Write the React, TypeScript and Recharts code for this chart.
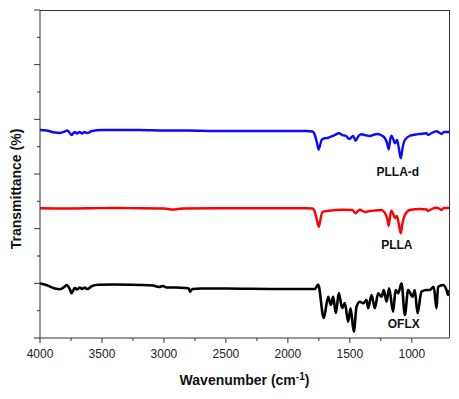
import React from 'react';
import { LineChart, Line, XAxis, YAxis, ReferenceDot } from 'recharts';

// wavenumber (cm-1) / transmittance (offset, arbitrary units)
const PLLA_D_WN = [4000, 3950, 3880, 3840, 3800, 3780, 3760, 3745, 3720, 3700, 3680, 3660, 3640, 3620, 3580, 3500, 3400, 3200, 3000, 2800, 2600, 2400, 2200, 2000, 1850, 1800, 1780, 1765, 1752, 1740, 1728, 1704, 1680, 1661, 1630, 1586, 1560, 1530, 1505, 1485, 1473, 1454, 1430, 1406, 1380, 1339, 1300, 1280, 1250, 1218, 1200, 1186, 1175, 1165, 1150, 1137, 1119, 1105, 1089, 1075, 1056, 1016, 970, 935, 881, 868, 840, 801, 780, 761, 740, 700];
const PLLA_D_T = [38.05, 37.96, 37.59, 37.5, 37.77, 37.96, 37.5, 37.13, 37.68, 37.41, 37.68, 37.41, 37.68, 37.5, 37.87, 38.05, 38.05, 38.05, 37.96, 37.96, 37.87, 37.87, 37.87, 37.87, 37.87, 37.77, 36.95, 35.67, 34.48, 35.3, 36.22, 36.53, 36.58, 36.77, 37.04, 37.45, 37.13, 36.95, 36.4, 36.77, 36.95, 36.09, 36.95, 37.26, 37.13, 36.95, 37.22, 37.32, 37.13, 36.58, 35.67, 34.52, 36.22, 37.0, 36.4, 35.62, 36.22, 34.75, 32.87, 34.75, 36.22, 37.0, 37.22, 37.32, 37.45, 37.13, 37.5, 37.81, 37.59, 37.32, 37.68, 37.68];

const PLLA_WN = [4000, 3800, 3600, 3400, 3200, 3000, 2930, 2850, 2600, 2400, 2200, 2000, 1850, 1800, 1785, 1770, 1750, 1738, 1725, 1715, 1650, 1621, 1560, 1480, 1454, 1435, 1419, 1395, 1371, 1339, 1290, 1244, 1218, 1200, 1186, 1175, 1165, 1150, 1137, 1121, 1105, 1089, 1075, 1056, 1016, 935, 880, 868, 840, 801, 780, 761, 740, 700];
const PLLA_T = [23.73, 23.69, 23.73, 23.78, 23.73, 23.69, 23.5, 23.69, 23.73, 23.73, 23.73, 23.73, 23.73, 23.69, 23.23, 21.95, 20.36, 21.59, 22.87, 23.11, 23.33, 23.41, 23.45, 23.41, 22.81, 23.23, 23.47, 23.23, 23.05, 23.23, 23.33, 23.41, 22.87, 21.95, 20.54, 22.32, 23.29, 22.69, 21.95, 22.32, 20.85, 19.15, 21.04, 22.5, 23.41, 23.6, 23.5, 23.23, 23.6, 23.84, 23.69, 23.41, 23.78, 23.78];

const OFLX_WN = [4000, 3950, 3880, 3839, 3800, 3785, 3760, 3745, 3720, 3700, 3680, 3660, 3640, 3620, 3580, 3532, 3400, 3200, 3089, 3040, 3008, 2980, 2900, 2830, 2800, 2790, 2770, 2700, 2500, 2300, 2100, 1900, 1782, 1756, 1710, 1675, 1653, 1635, 1613, 1589, 1562, 1540, 1514, 1494, 1468, 1446, 1419, 1393, 1365, 1352, 1325, 1298, 1272, 1244, 1226, 1204, 1183, 1151, 1131, 1110, 1083, 1056, 1030, 994, 976, 954, 922, 881, 855, 823, 801, 788, 748, 720, 707, 700];
const OFLX_T = [9.97, 9.7, 9.05, 8.91, 9.42, 9.7, 8.96, 8.18, 9.15, 8.87, 9.24, 8.96, 9.24, 8.96, 9.51, 9.75, 9.79, 9.7, 9.6, 9.33, 9.51, 9.24, 9.24, 9.15, 9.05, 8.47, 8.96, 9.05, 9.05, 9.0, 8.96, 8.96, 8.96, 9.79, 3.66, 7.55, 6.04, 7.55, 4.57, 8.23, 5.49, 6.4, 2.98, 5.43, 1.15, 5.73, 6.64, 6.35, 6.95, 5.43, 7.87, 5.43, 8.18, 7.55, 8.78, 6.64, 9.09, 4.81, 8.78, 8.18, 10.01, 4.21, 8.78, 7.55, 8.78, 4.52, 8.47, 8.78, 8.78, 9.38, 5.43, 9.38, 9.7, 8.78, 7.87, 8.78];

const X_TICKS = [1000, 1250, 1500, 1750, 2000, 2250, 2500, 2750, 3000, 3250, 3500, 3750, 4000];
const Y_TICKS = [0, 5, 10, 15, 20, 25, 30, 35, 40, 45, 50, 55, 60];

const toRows = (wn: number[], t: number[]) => wn.map((w, i) => ({ wn: w, t: t[i] }));
const pllaD = toRows(PLLA_D_WN, PLLA_D_T);
const plla = toRows(PLLA_WN, PLLA_T);
const oflx = toRows(OFLX_WN, OFLX_T);

const FONT = '"Liberation Sans", Arial, sans-serif';
const AXIS = '#333';
const W = 459;
const H = 399;
const MARGIN = { top: 10, right: 10, bottom: 0, left: 0 };
const Y_AXIS_W = 40;
const X_AXIS_H = 61;

const XTick = (props: any) => {
  const { x, y, payload } = props;
  const major = payload.value % 500 === 0;
  return (
    <g>
      <line x1={x} x2={x} y1={y} y2={y + (major ? 5 : 3)} stroke={AXIS} />
      {major && (
        <text x={x} y={y + 20} textAnchor="middle" fontSize={12} fontFamily={FONT} fill="#222">
          {payload.value}
        </text>
      )}
    </g>
  );
};

const YTick = (props: any) => {
  const { x, y, payload } = props;
  const major = payload.value % 10 === 0;
  return <line x1={x - (major ? 6 : 3)} x2={x} y1={y} y2={y} stroke={AXIS} />;
};

const XLabel = (props: any) => {
  const { viewBox } = props;
  return (
    <text x={viewBox.x + viewBox.width / 2} y={viewBox.y + 47} textAnchor="middle" fontSize={14} fontWeight="bold" fontFamily={FONT} fill="#111">
      Wavenumber (cm<tspan dy={-5} fontSize={10}>-1</tspan><tspan dy={5}>)</tspan>
    </text>
  );
};

const YLabel = () => (
  <text x={16} y={189} transform="rotate(-90 16 189)" textAnchor="middle" dominantBaseline="central"
    fontSize={14} fontWeight="bold" fontFamily={FONT} fill="#111">
    Transmittance (%)
  </text>
);

const tag = (text: string) => ({ value: text, position: 'center' as const, fontSize: 12, fontWeight: 'bold', fontFamily: FONT, fill: '#111' });

export default function App() {
  return (
    <div style={{ position: 'absolute', left: 0, top: 0, width: W, height: H, background: '#fff' }}>
      <LineChart width={W} height={H} margin={MARGIN}>
        <XAxis xAxisId="b" dataKey="wn" type="number" domain={[700, 4000]} reversed allowDataOverflow
          ticks={X_TICKS} interval={0} tick={<XTick />} tickLine={false} tickSize={0} tickMargin={0}
          height={X_AXIS_H} stroke={AXIS} label={<XLabel />} />
        <YAxis yAxisId="l" type="number" domain={[0, 60]} ticks={Y_TICKS} interval={0} allowDataOverflow
          tick={<YTick />} tickLine={false} tickSize={0} tickMargin={0} width={Y_AXIS_W} stroke={AXIS} label={<YLabel />} />
        <Line xAxisId="b" yAxisId="l" data={pllaD} dataKey="t" type="monotoneX" stroke="#0a0aff" strokeWidth={2.4} dot={false} isAnimationActive={false} />
        <Line xAxisId="b" yAxisId="l" data={plla} dataKey="t" type="monotoneX" stroke="#ff0000" strokeWidth={2.4} dot={false} isAnimationActive={false} />
        <Line xAxisId="b" yAxisId="l" data={oflx} dataKey="t" type="monotoneX" stroke="#000" strokeWidth={2.6} dot={false} isAnimationActive={false} />
        <ReferenceDot xAxisId="b" yAxisId="l" x={1113} y={30.5} r={0} stroke="none" fill="none" label={tag('PLLA-d')} />
        <ReferenceDot xAxisId="b" yAxisId="l" x={1121} y={17} r={0} stroke="none" fill="none" label={tag('PLLA')} />
        <ReferenceDot xAxisId="b" yAxisId="l" x={1065} y={2.6} r={0} stroke="none" fill="none" label={tag('OFLX')} />
      </LineChart>
      {/* top and right edges of the plot frame */}
      <div style={{
        position: 'absolute', pointerEvents: 'none', boxSizing: 'border-box',
        left: MARGIN.left + Y_AXIS_W, top: MARGIN.top - 0.5,
        width: W - MARGIN.left - MARGIN.right - Y_AXIS_W + 0.5,
        height: H - MARGIN.top - MARGIN.bottom - X_AXIS_H + 0.5,
        borderTop: `1px solid ${AXIS}`, borderRight: `1px solid ${AXIS}`,
      }} />
    </div>
  );
}
